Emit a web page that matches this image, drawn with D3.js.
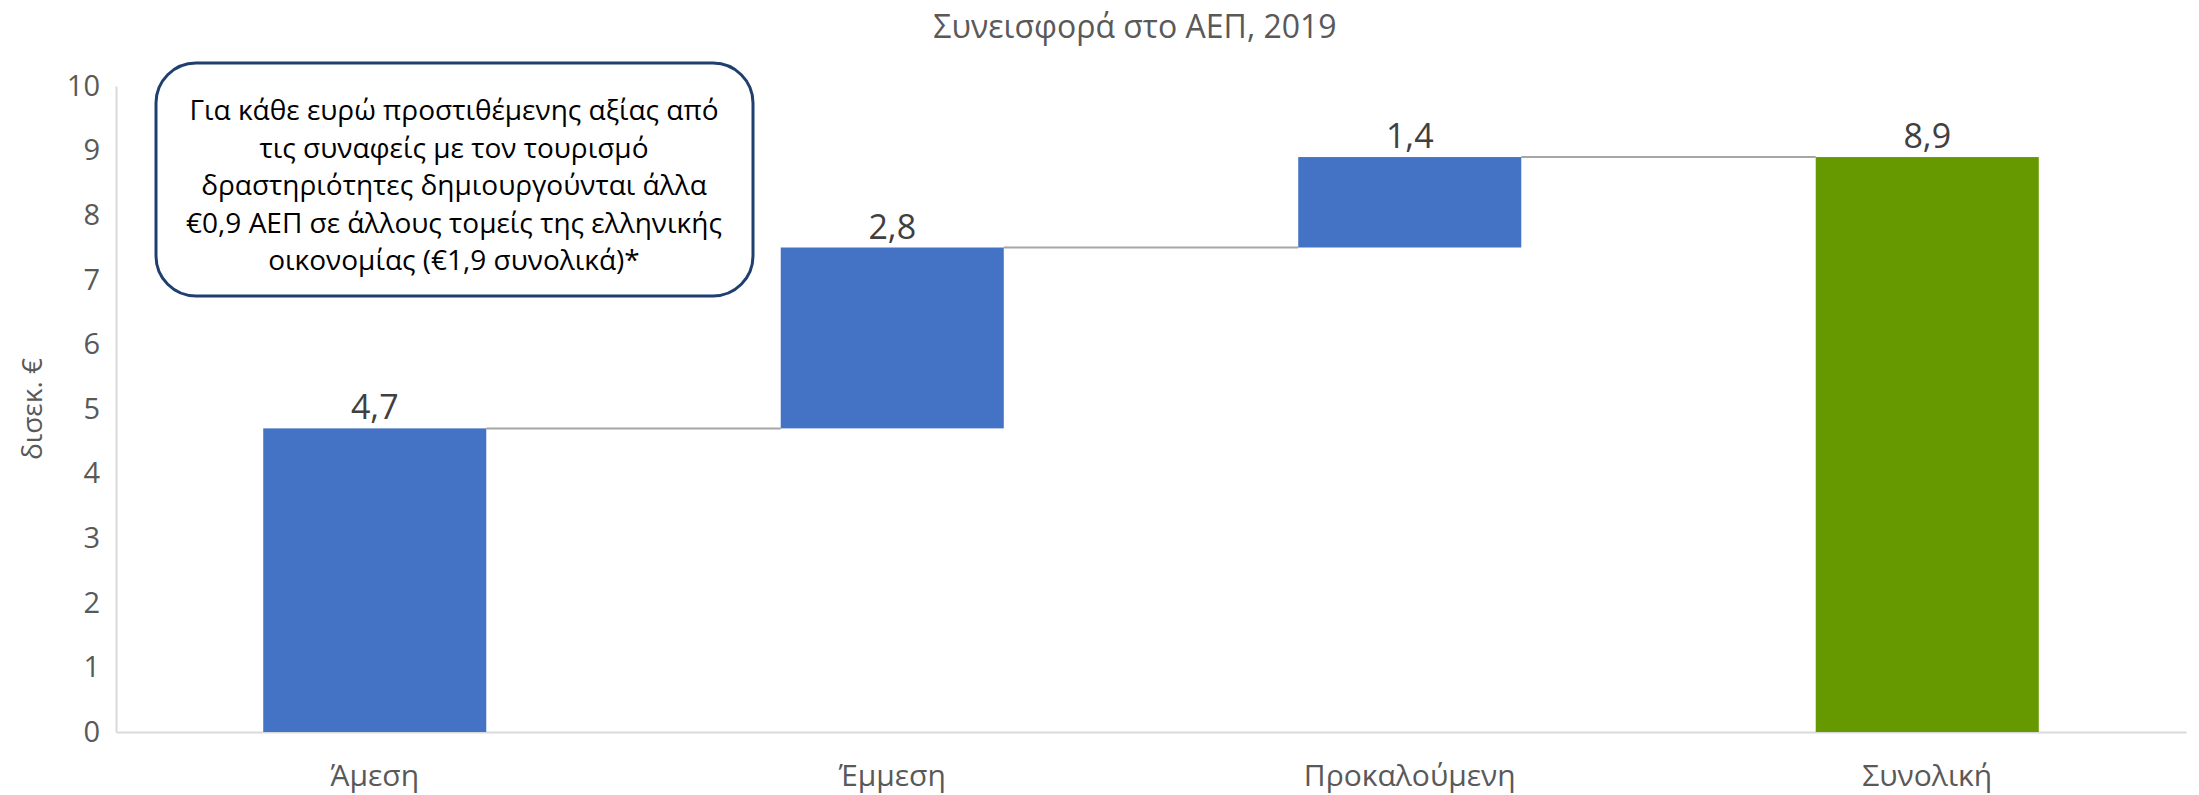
<!DOCTYPE html>
<html>
<head>
<meta charset="utf-8">
<script src="https://cdn.jsdelivr.net/npm/d3@7"></script>
<style>
  body { margin: 0; background: #fff; }
  text { font-family: 'Open Sans', 'Noto Sans', sans-serif; }
</style>
</head>
<body>
<div id="chartFrame"></div>
<script>
// data
const categories = ['Άμεση', 'Έμμεση', 'Προκαλούμενη', 'Συνολική']
const deltas = [4.7, 2.8, 1.4, 8.9]
const isTotal = [false, false, false, true]
const labels = ['4,7', '2,8', '1,4', '8,9']
const yTicks = [0, 1, 2, 3, 4, 5, 6, 7, 8, 9, 10]
const noteLines = [
  'Για κάθε ευρώ προστιθέμενης αξίας από',
  'τις συναφείς με τον τουρισμό',
  'δραστηριότητες δημιουργούνται άλλα',
  '€0,9 ΑΕΠ σε άλλους τομείς της ελληνικής',
  'οικονομίας (€1,9 συνολικά)*'
]
const title = 'Συνεισφορά στο ΑΕΠ, 2019'
const yTitle = 'δισεκ. €'

const W = 2199
const H = 795
const margin = {top: 86, left: 116, right: 13, bottom: 63}
const blue = '#4472c4'
const green = '#669900'

// build waterfall steps
let run = 0
let steps = deltas.map((d, i) => {
  let s
  if (isTotal[i]) {
    s = {y0: 0, y1: d}
    run = d
  } else {
    s = {y0: run, y1: run + d}
    run += d
  }
  s.cat = categories[i]
  s.label = labels[i]
  s.total = isTotal[i]
  return s
})

let svg = d3.select('#chartFrame').append('svg')
  .attr('width', W)
  .attr('height', H)

const xScale = d3.scaleBand()
  .domain(categories)
  .range([margin.left, W - margin.right])
  .paddingInner(0.569)
  .paddingOuter(0.2845)
const yScale = d3.scaleLinear()
  .domain([0, 10])
  .range([H - margin.bottom, margin.top])

// y axis
let yaxis = svg.append('g')
  .attr('transform', `translate(${margin.left},0)`)
  .call(d3.axisLeft(yScale).tickValues(yTicks).tickSize(0).tickPadding(16))
yaxis.select('.domain').attr('stroke', '#d9d9d9').attr('stroke-width', 2)
yaxis.selectAll('text')
  .style('font-size', '29px')
  .style('fill', '#595959')

// x axis
let xaxis = svg.append('g')
  .attr('transform', `translate(0,${yScale(0)})`)
  .call(d3.axisBottom(xScale).tickSize(0).tickPadding(33))
xaxis.select('.domain').attr('stroke', '#d9d9d9').attr('stroke-width', 2)
xaxis.selectAll('text')
  .style('font-size', '30px')
  .style('fill', '#595959')

// connectors
svg.append('g')
  .selectAll('line')
  .data(steps.slice(0, -1))
  .enter()
  .append('line')
  .attr('x1', d => xScale(d.cat) + xScale.bandwidth())
  .attr('x2', (d, i) => xScale(categories[i + 1]))
  .attr('y1', d => yScale(d.y1))
  .attr('y2', d => yScale(d.y1))
  .style('stroke', '#a6a6a6')
  .style('stroke-width', 2)

// bars
svg.append('g')
  .selectAll('rect')
  .data(steps)
  .enter()
  .append('rect')
  .attr('x', d => xScale(d.cat))
  .attr('width', xScale.bandwidth())
  .attr('y', d => yScale(d.y1))
  .attr('height', d => yScale(d.y0) - yScale(d.y1))
  .style('fill', d => d.total ? green : blue)

// value labels
svg.append('g')
  .selectAll('text')
  .data(steps)
  .enter()
  .append('text')
  .attr('x', d => xScale(d.cat) + xScale.bandwidth() / 2)
  .attr('y', d => yScale(d.y1) - 9)
  .attr('text-anchor', 'middle')
  .style('font-size', '34px')
  .style('fill', '#404040')
  .text(d => d.label)

// title
svg.append('text')
  .attr('x', 1135)
  .attr('y', 38)
  .attr('text-anchor', 'middle')
  .style('font-size', '32px')
  .style('fill', '#595959')
  .text(title)

// y title
svg.append('text')
  .attr('transform', 'translate(42,409) rotate(-90)')
  .attr('text-anchor', 'middle')
  .style('font-size', '28px')
  .style('fill', '#595959')
  .text(yTitle)

// note box
let note = svg.append('g')
note.append('rect')
  .attr('x', 156)
  .attr('y', 63)
  .attr('width', 597)
  .attr('height', 233)
  .attr('rx', 40)
  .attr('ry', 40)
  .style('fill', '#fff')
  .style('stroke', '#1f3f6e')
  .style('stroke-width', 3)
note.selectAll('text')
  .data(noteLines)
  .enter()
  .append('text')
  .attr('x', 454)
  .attr('y', (d, i) => 120 + i * 37.5)
  .attr('text-anchor', 'middle')
  .style('font-size', '28px')
  .style('fill', '#000')
  .text(d => d)
</script>
</body>
</html>
